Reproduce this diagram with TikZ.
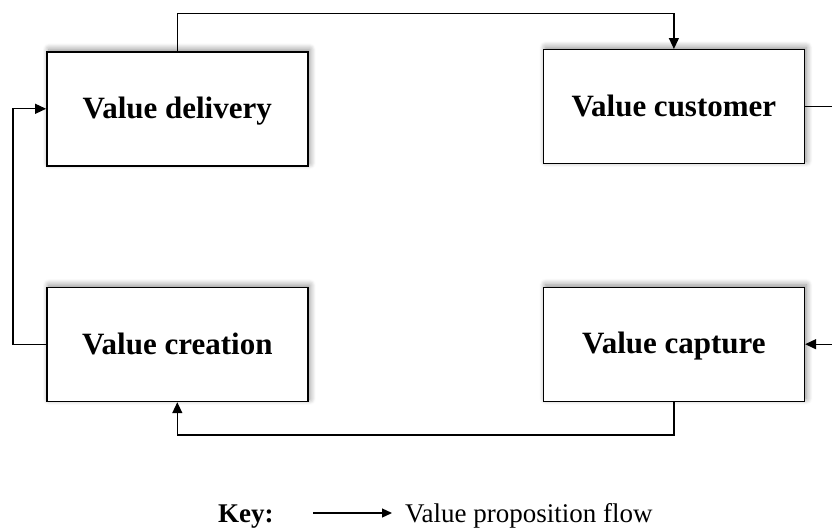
\documentclass[tikz,border=0pt]{standalone}
\usepackage{fontspec}
\setmainfont{Liberation Serif}
\usetikzlibrary{arrows.meta,shadows.blur}

\tikzset{
  stage/.style={draw=black, line width=1.4pt, fill=white,
    minimum width=261pt, minimum height=114pt, inner sep=0pt,
    font=\fontsize{31}{31}\selectfont\bfseries,
    text height=19pt, text depth=0pt,
    blur shadow={shadow xshift=2pt, shadow yshift=2.5pt,
                 shadow blur radius=6pt, shadow blur steps=10,
                 shadow opacity=45}},
  flow/.style={line width=1.3pt, -{Triangle[length=11pt,width=10pt]}},
  plain/.style={line width=1.3pt},
  keytext/.style={font=\fontsize{27}{27}\selectfont, inner sep=0pt}
}

\begin{document}
\begin{tikzpicture}[x=1pt, y=-1pt]
  \useasboundingbox (0,0) rectangle (832,530);

  % the four stages of the value cycle
  \node[stage] (delivery) at (177.3,108.8) {Value delivery};
  \node[stage] (customer) at (673.9,106.7) {Value customer};
  \node[stage] (creation) at (177.3,344.5) {Value creation};
  \node[stage] (capture)  at (673.9,344.2) {Value capture};

  % routing lanes for the connectors
  \coordinate (toplane)   at (0,13.3);
  \coordinate (botlane)   at (0,435);
  \coordinate (leftlane)  at (13,0);
  \coordinate (rightlane) at (832,0);

  % value proposition flow between the stages
  \draw[flow] (delivery.north) -- (delivery.north |- toplane) -| (customer.north);
  \draw[plain] (customer.east) -- (rightlane |- customer.east);
  \draw[flow] (rightlane |- capture.east) -- (capture.east);
  \draw[flow] (capture.south) -- (capture.south |- botlane) -| (creation.south);
  \draw[flow] (creation.west) -- (leftlane |- creation.west) |- (delivery.west);

  % key
  \node[keytext, font=\fontsize{27}{27}\selectfont\bfseries, anchor=base west]
    (keylabel) at (218,522) {Key:};
  \coordinate (keystart) at (313,513);
  \coordinate (keyend) at (392,513);
  \draw[line width=1.3pt, -{Triangle[length=10pt,width=9pt]}] (keystart) -- (keyend);
  \node[keytext, anchor=base west] (keyflow) at (405,522) {Value proposition flow};
\end{tikzpicture}
\end{document}
